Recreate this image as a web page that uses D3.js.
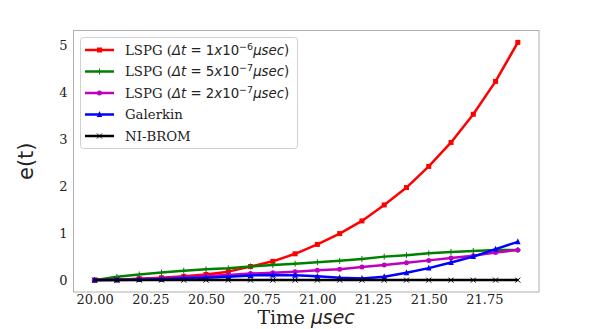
<!DOCTYPE html>
<html>
<head>
<meta charset="utf-8">
<script src="https://cdn.jsdelivr.net/npm/d3@7"></script>
<style>
  body { margin: 0; background: #fff; }
  svg text { fill: #222; }
</style>
</head>
<body>
<div id="chart"></div>
<script>
// ---- data ----
var times = [20.0, 20.1, 20.2, 20.3, 20.4, 20.5, 20.6, 20.7, 20.8, 20.9,
             21.0, 21.1, 21.2, 21.3, 21.4, 21.5, 21.6, 21.7, 21.8, 21.9];
var lspg1 = [0, 0.01, 0.03, 0.05, 0.08, 0.12, 0.18, 0.29, 0.40, 0.56,
             0.76, 0.99, 1.26, 1.60, 1.97, 2.42, 2.93, 3.53, 4.23, 5.06];
var lspg5 = [0, 0.07, 0.12, 0.16, 0.20, 0.23, 0.25, 0.29, 0.32, 0.35,
             0.38, 0.41, 0.45, 0.50, 0.53, 0.57, 0.60, 0.62, 0.64, 0.64];
var lspg2 = [0, 0.01, 0.025, 0.04, 0.06, 0.09, 0.11, 0.14, 0.155, 0.18,
             0.21, 0.23, 0.28, 0.32, 0.37, 0.42, 0.47, 0.52, 0.59, 0.64];
var galerkin = [0, 0, 0.01, 0.02, 0.04, 0.05, 0.07, 0.10, 0.11, 0.105,
                0.08, 0.05, 0.035, 0.07, 0.155, 0.255, 0.375, 0.50, 0.66, 0.815];
var nibrom = [0, 0, 0, 0, 0, 0, 0, 0, 0, 0,
              0, 0, 0, 0, 0, 0, 0, 0, 0, 0];
var xTicks = [20.0, 20.25, 20.5, 20.75, 21.0, 21.25, 21.5, 21.75];
var yTicks = [0, 1, 2, 3, 4, 5];

var series = [
  {name: "lspg1", values: lspg1, color: "#ff0000", marker: "square", dt: "1", ex: "\u22126"},
  {name: "lspg5", values: lspg5, color: "#008000", marker: "plus", dt: "5", ex: "\u22127"},
  {name: "lspg2", values: lspg2, color: "#bf00bf", marker: "circle", dt: "2", ex: "\u22127"},
  {name: "Galerkin", values: galerkin, color: "#0000ff", marker: "triangle"},
  {name: "NI-BROM", values: nibrom, color: "#000000", marker: "cross"}
];

// ---- layout ----
var W = 598, H = 329;
var plot = {left: 73.5, right: 539, top: 30.5, bottom: 292};
var serif = "'DejaVu Serif', serif";
var sans = "'DejaVu Sans', sans-serif";

var svg = d3.select("#chart").append("svg")
    .attr("width", W)
    .attr("height", H);

var x = d3.scaleLinear().domain([19.905, 21.995]).range([plot.left, plot.right]);
var y = d3.scaleLinear().domain([-0.253, 5.313]).range([plot.bottom, plot.top]);

// ---- axes (no tick marks, just labels) ----
var xAxis = d3.axisBottom(x).tickValues(xTicks).tickFormat(d3.format(".2f"))
    .tickSize(0).tickPadding(2);
var yAxis = d3.axisLeft(y).tickValues(yTicks).tickFormat(d3.format("d"))
    .tickSize(0).tickPadding(6);

var gx = svg.append("g")
    .attr("transform", "translate(0," + plot.bottom + ")")
    .call(xAxis);
var gy = svg.append("g")
    .attr("transform", "translate(" + plot.left + ",0)")
    .call(yAxis);
[gx, gy].forEach(function(g) {
  g.select(".domain").remove();
  g.selectAll("text").attr("font-family", serif).attr("font-size", 13).attr("fill", "#222");
});
gx.selectAll("text").attr("dy", "0.75em");
gy.selectAll("text").attr("dy", "0.36em");

// frame
svg.append("rect")
    .attr("x", plot.left).attr("y", plot.top)
    .attr("width", plot.right - plot.left).attr("height", plot.bottom - plot.top)
    .attr("fill", "none").attr("stroke", "#b0b0b0").attr("stroke-width", 1);

// axis titles
var xt = svg.append("text")
    .attr("x", 306).attr("y", 324.3)
    .attr("text-anchor", "middle")
    .attr("font-size", 18.8);
xt.append("tspan").attr("font-family", serif).text("Time ");
xt.append("tspan").attr("font-family", sans).attr("font-style", "italic").text("\u03bcsec");

svg.append("text")
    .attr("transform", "translate(33," + ((plot.top + plot.bottom) / 2) + ") rotate(-90)")
    .attr("text-anchor", "middle")
    .attr("font-family", sans)
    .attr("font-size", 21)
    .text("e(t)");

// ---- markers ----
function drawMarker(g, type, color, cx, cy, s) {
  if (type === "square") {
    g.append("rect").attr("x", cx - s / 2).attr("y", cy - s / 2)
      .attr("width", s).attr("height", s).attr("fill", color);
  } else if (type === "circle") {
    g.append("circle").attr("cx", cx).attr("cy", cy).attr("r", s / 2).attr("fill", color);
  } else if (type === "triangle") {
    var h = s * 0.9;
    g.append("path")
      .attr("d", "M" + cx + "," + (cy - h / 2 - 1) + "L" + (cx + s / 2) + "," + (cy + h / 2) +
                 "L" + (cx - s / 2) + "," + (cy + h / 2) + "Z")
      .attr("fill", color);
  } else if (type === "plus") {
    g.append("path")
      .attr("d", "M" + (cx - 3) + "," + cy + "H" + (cx + 3) + "M" + cx + "," + (cy - 3) + "V" + (cy + 3))
      .attr("stroke", color).attr("stroke-width", 1);
  } else if (type === "cross") {
    g.append("path")
      .attr("d", "M" + (cx - 2.5) + "," + (cy - 2.5) + "L" + (cx + 2.5) + "," + (cy + 2.5) +
                 "M" + (cx - 2.5) + "," + (cy + 2.5) + "L" + (cx + 2.5) + "," + (cy - 2.5))
      .attr("stroke", color).attr("stroke-width", 1);
  }
}

var markerSize = {square: 5, circle: 5, triangle: 5.5, plus: 6, cross: 5};

// ---- lines ----
var line = d3.line()
    .x(function(d) { return x(d.t); })
    .y(function(d) { return y(d.v); });

series.forEach(function(s) {
  var pts = times.map(function(t, i) { return {t: t, v: s.values[i]}; });
  var g = svg.append("g");
  g.append("path")
    .attr("d", line(pts))
    .attr("fill", "none")
    .attr("stroke", s.color)
    .attr("stroke-width", 2.5)
    .attr("stroke-linejoin", "round");
  pts.forEach(function(p) {
    drawMarker(g, s.marker, s.color, x(p.t), y(p.v), markerSize[s.marker]);
  });
});

// ---- legend ----
var leg = svg.append("g");
leg.append("rect")
    .attr("x", 80.5).attr("y", 37.5)
    .attr("width", 217).attr("height", 111)
    .attr("rx", 3)
    .attr("fill", "#fff").attr("fill-opacity", 0.8)
    .attr("stroke", "#d0d0d0").attr("stroke-width", 1);

series.forEach(function(s, i) {
  var cy = 50 + i * 21.5;
  leg.append("line")
    .attr("x1", 85).attr("x2", 114)
    .attr("y1", cy).attr("y2", cy)
    .attr("stroke", s.color).attr("stroke-width", 2.5);
  drawMarker(leg, s.marker, s.color, 99.5, cy, markerSize[s.marker]);

  var t = leg.append("text")
    .attr("x", 125).attr("y", cy + 4.5)
    .attr("font-size", 13.3);
  if (s.dt) {
    t.append("tspan").attr("font-family", serif).text("LSPG (");
    t.append("tspan").attr("font-family", sans).attr("font-style", "italic").text("\u0394t");
    t.append("tspan").attr("font-family", sans).text(" = " + s.dt);
    t.append("tspan").attr("font-family", sans).attr("font-style", "italic").text("x");
    t.append("tspan").attr("font-family", sans).text("10");
    t.append("tspan").attr("font-family", sans).attr("font-size", 9.5)
      .attr("dy", -5).text(s.ex);
    t.append("tspan").attr("font-family", sans).attr("font-style", "italic")
      .attr("dy", 5).text("\u03bcsec");
    t.append("tspan").attr("font-family", sans).text(")");
  } else {
    t.attr("font-family", serif).text(s.name);
  }
});
</script>
</body>
</html>
